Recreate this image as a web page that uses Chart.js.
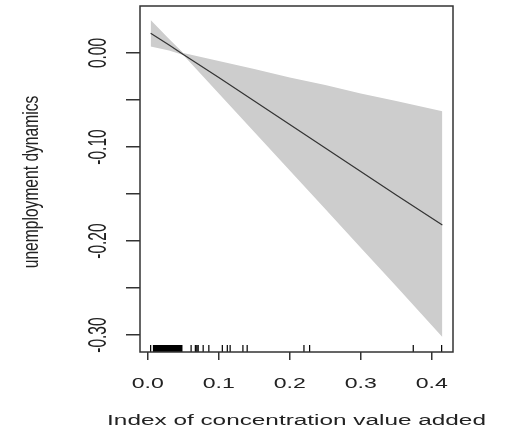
<!DOCTYPE html>
<html>
<head>
<meta charset="utf-8">
<script src="https://cdn.jsdelivr.net/npm/chart.js@4"></script>
<style>
  html, body { margin: 0; padding: 0; background: #fff; }
  #wrap { width: 508px; height: 434px; }
</style>
</head>
<body>
<div id="wrap"><canvas id="gamChart"></canvas></div>
<script>
// smooth term + 2se band
const xs    = [0.004, 0.03, 0.05, 0.1, 0.15, 0.2, 0.25, 0.3, 0.35, 0.415];
const fit   = [0.021, 0.0085, -0.0015, -0.026, -0.051, -0.076, -0.101, -0.126, -0.151, -0.183];
const upper = [0.035, 0.015, 0.0, -0.0085, -0.017, -0.026, -0.034, -0.043, -0.051, -0.062];
const lower = [0.007, 0.0026, -0.002, -0.043, -0.084, -0.125, -0.166, -0.207, -0.248, -0.302];

// rug of observed x values (the low end is packed solid)
const rug = [0.004, 0.008, 0.009, 0.010, 0.011, 0.012, 0.013, 0.014, 0.015, 0.016, 0.017, 0.018,
  0.019, 0.020, 0.021, 0.022, 0.023, 0.024, 0.025, 0.026, 0.027, 0.028, 0.029, 0.030, 0.031,
  0.032, 0.033, 0.034, 0.035, 0.036, 0.037, 0.038, 0.039, 0.040, 0.041, 0.042, 0.043, 0.044,
  0.045, 0.046, 0.047, 0.048, 0.061, 0.067, 0.069, 0.071, 0.078, 0.086, 0.105, 0.112, 0.116,
  0.134, 0.140, 0.220, 0.228, 0.374, 0.414];

const xTicks = [0, 0.1, 0.2, 0.3, 0.4];
const xTickLabels = ["0.0", "0.1", "0.2", "0.3", "0.4"];
const yTicks = [0, -0.05, -0.10, -0.15, -0.20, -0.25, -0.30];
const yTickLabels = ["0.00", "", "-0.10", "", "-0.20", "", "-0.30"];

const xTitle = "Index of concentration value added";
const yTitle = "unemployment dynamics";

const pts = arr => xs.map((x, i) => ({ x: x, y: arr[i] }));

// the source image is stretched sideways, so text is widened the same way
function stretchedText(ctx, txt, x, y, size, sx, rot) {
    ctx.save();
    ctx.translate(x, y);
    ctx.scale(sx, 1);
    if (rot) ctx.rotate(rot);
    ctx.font = size + "px 'Liberation Sans', Arial, sans-serif";
    ctx.fillStyle = "#222";
    ctx.textAlign = "center";
    ctx.textBaseline = "alphabetic";
    ctx.fillText(txt, 0, 0);
    ctx.restore();
}

const rPlot = {
    id: "rPlot",
    afterDatasetsDraw(chart) {
        const { ctx, chartArea: a, scales: { x } } = chart;
        ctx.save();
        // rug
        ctx.strokeStyle = "#000";
        ctx.lineWidth = 1.2;
        ctx.beginPath();
        rug.forEach(v => {
            const px = x.getPixelForValue(v);
            ctx.moveTo(px, a.bottom - 7);
            ctx.lineTo(px, a.bottom);
        });
        ctx.stroke();
        // box
        ctx.strokeStyle = "#333";
        ctx.lineWidth = 1.5;
        ctx.strokeRect(a.left, a.top, a.right - a.left, a.bottom - a.top);
        ctx.restore();
    },
    afterDraw(chart) {
        const { ctx, chartArea: a, scales: { x, y } } = chart;
        xTicks.forEach((v, i) => stretchedText(ctx, xTickLabels[i], x.getPixelForValue(v), 388, 14, 1.65, 0));
        yTicks.forEach((v, i) => {
            if (yTickLabels[i]) stretchedText(ctx, yTickLabels[i], 106, y.getPixelForValue(v), 15.5, 1.7, -Math.PI / 2);
        });
        stretchedText(ctx, xTitle, (a.left + a.right) / 2, 424.5, 15.5, 1.57, 0);
        stretchedText(ctx, yTitle, 38, (a.top + a.bottom) / 2 + 3, 15.6, 1.45, -Math.PI / 2);
    }
};

new Chart(document.getElementById("gamChart"), {
    type: "line",
    data: {
        datasets: [
            { data: pts(fit), borderColor: "#333", borderWidth: 1.2, pointRadius: 0, fill: false, tension: 0 },
            { data: pts(lower), borderWidth: 0, pointRadius: 0, fill: false, tension: 0 },
            { data: pts(upper), borderWidth: 0, pointRadius: 0, fill: "-1", backgroundColor: "#cdcdcd", tension: 0 }
        ]
    },
    options: {
        responsive: true,
        maintainAspectRatio: false,
        animation: false,
        events: [],
        layout: { padding: { left: 126, right: 55, top: 6, bottom: 74 } },
        plugins: { legend: { display: false }, tooltip: { enabled: false } },
        scales: {
            x: {
                type: "linear", min: -0.011, max: 0.430,
                afterBuildTicks: s => { s.ticks = xTicks.map(v => ({ value: v })); },
                ticks: { display: false },
                grid: { drawOnChartArea: false, drawTicks: true, tickLength: 8, color: "#333", lineWidth: 1.5 },
                border: { display: false }
            },
            y: {
                type: "linear", min: -0.318, max: 0.05,
                afterBuildTicks: s => { s.ticks = yTicks.map(v => ({ value: v })); },
                ticks: { display: false },
                grid: { drawOnChartArea: false, drawTicks: true, tickLength: 14, color: "#333", lineWidth: 1.5 },
                border: { display: false }
            }
        }
    },
    plugins: [rPlot]
});
</script>
</body>
</html>
